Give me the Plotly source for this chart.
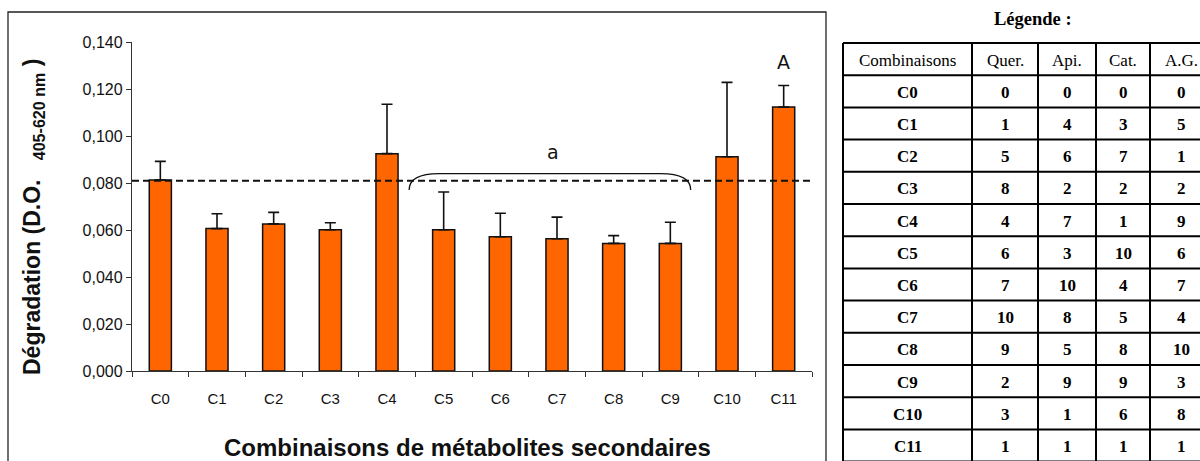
import plotly.graph_objects as go

# ---- data ----
categories = ["C0", "C1", "C2", "C3", "C4", "C5", "C6", "C7", "C8", "C9", "C10", "C11"]
values = [0.0813, 0.0606, 0.0626, 0.0601, 0.0925, 0.0601, 0.0571, 0.0563, 0.0543, 0.0543, 0.0912, 0.1123]
errors_up = [0.0079, 0.0063, 0.0049, 0.0030, 0.0210, 0.0161, 0.0100, 0.0092, 0.0033, 0.0090, 0.0316, 0.0092]
control_level = 0.081
y_ticks = [0.0, 0.02, 0.04, 0.06, 0.08, 0.10, 0.12, 0.14]

# legend table
table_header = ["Combinaisons", "Quer.", "Api.", "Cat.", "A.G."]
quer = [0, 1, 5, 8, 4, 6, 7, 10, 9, 2, 3, 1]
api = [0, 4, 6, 2, 7, 3, 10, 8, 5, 9, 1, 1]
cat = [0, 3, 7, 2, 1, 10, 4, 5, 8, 9, 6, 1]
ag = [0, 5, 1, 2, 9, 6, 7, 4, 10, 3, 8, 1]

# group annotations
bracket_from, bracket_to = 4.39, 9.36
bracket_top, bracket_end = 0.0840, 0.0770
label_a = ("a", 6.93, 0.0932)
label_A = ("A", 11.0, 0.1315)

# ---- layout constants (pixels) ----
W, H = 1200, 461
table_col_edges = [843, 972, 1038, 1096, 1150, 1212]
table_top, table_row_h = 43, 32.2

idx = list(range(len(categories)))

fig = go.Figure()
fig.add_trace(go.Bar(
    x=idx, y=values,
    marker=dict(color="#FF6600", line=dict(color="#111111", width=1.5)),
    width=0.39,
    error_y=dict(type="data", symmetric=False, array=errors_up,
                 arrayminus=[0] * len(values), color="#111111", thickness=1.6, width=5.5),
    showlegend=False, hoverinfo="skip",
))

fig.update_layout(
    width=W, height=H, autosize=False,
    margin=dict(l=0, r=0, t=0, b=0, pad=0, autoexpand=False),
    paper_bgcolor="white", plot_bgcolor="white",
    separators=", ",
    font=dict(family="Liberation Sans, Arial, sans-serif", color="#111111"),
    bargap=0.6,
)

fig.update_xaxes(
    automargin=False,
    domain=[132 / W, 812 / W], range=[-0.5, len(categories) - 0.5],
    tickmode="array", tickvals=idx, ticktext=categories,
    ticks="", ticklabelstandoff=14,
    minor=dict(tickmode="linear", tick0=0.5, dtick=1, ticks="outside", ticklen=5,
               tickcolor="#333333", tickwidth=1),
    showline=True, linecolor="#333333", linewidth=1.2,
    showgrid=False, zeroline=False,
    tickfont=dict(size=15, color="#111111"),
)
fig.update_yaxes(
    automargin=False,
    domain=[90 / H, 419 / H], range=[0, 0.14],
    tickmode="array", tickvals=y_ticks, tickformat=".3f",
    ticks="outside", ticklen=5, tickcolor="#333333",
    showline=True, linecolor="#333333", linewidth=1.2,
    showgrid=False, zeroline=False,
    tickfont=dict(size=16, color="#111111"),
)

# dashed control line
fig.add_shape(type="line", xref="x", yref="y", x0=-0.5, x1=len(categories) - 0.5,
              y0=control_level, y1=control_level,
              line=dict(color="#111111", width=2, dash="7px,4px"))

# bracket over C5..C9
r = 0.53
fig.add_shape(type="path", xref="x", yref="y",
              path=(f"M {bracket_from},{bracket_end} Q {bracket_from},{bracket_top} {bracket_from + r},{bracket_top} "
                    f"L {bracket_to - r},{bracket_top} Q {bracket_to},{bracket_top} {bracket_to},{bracket_end}"),
              line=dict(color="#111111", width=1.3))

for txt, xv, yv in (label_a, label_A):
    fig.add_annotation(x=xv, y=yv, xref="x", yref="y", text=txt, showarrow=False,
                       yanchor="middle", xanchor="center",
                       font=dict(size=19, family="DejaVu Sans, Verdana, sans-serif", color="#111111"))

# outer frame of chart
fig.add_shape(type="rect", xref="paper", yref="paper", x0=8 / W, x1=826 / W,
              y0=-0.05, y1=1 - 12 / H, line=dict(color="#222222", width=1.3))

# axis titles
fig.add_annotation(x=467 / W, y=1 - 447 / H, xref="paper", yref="paper", showarrow=False,
                   xanchor="center", yanchor="middle",
                   text="<b>Combinaisons de métabolites secondaires</b>",
                   font=dict(size=24, color="#111111"))
fig.add_annotation(x=33 / W, y=1 - 217 / H, xref="paper", yref="paper", showarrow=False,
                   xanchor="center", yanchor="middle", textangle=-90,
                   text="<b>Dégradation (D.O.   <sub>405-620 nm</sub> )</b>",
                   font=dict(size=23, color="#111111"))

# ---- legend table (grid lines + text) ----
serif = "Liberation Serif, Times New Roman, serif"
fig.add_annotation(x=1033 / W, y=1 - 19 / H, xref="paper", yref="paper", showarrow=False,
                   xanchor="center", yanchor="middle",
                   text="<b>Légende :</b>",
                   font=dict(size=18.5, family=serif, color="black"))

columns = [categories, quer, api, cat, ag]
n_rows = len(categories) + 1
table_bottom = table_top + n_rows * table_row_h
px_x = lambda v: v / W
px_y = lambda v: 1 - v / H
for k in range(n_rows + 1):
    yy = table_top + k * table_row_h
    fig.add_shape(type="line", xref="paper", yref="paper",
                  x0=px_x(table_col_edges[0]), x1=px_x(table_col_edges[-1]),
                  y0=px_y(yy), y1=px_y(yy), line=dict(color="black", width=2))
for xe in table_col_edges:
    fig.add_shape(type="line", xref="paper", yref="paper",
                  x0=px_x(xe), x1=px_x(xe), y0=px_y(table_top), y1=px_y(table_bottom),
                  line=dict(color="black", width=2))
for ci, col in enumerate(columns):
    xc = (table_col_edges[ci] + table_col_edges[ci + 1]) / 2
    cells = [table_header[ci]] + [f"<b>{v}</b>" for v in col]
    for ri, txt in enumerate(cells):
        yc = table_top + (ri + 0.5) * table_row_h + 1
        fig.add_annotation(x=px_x(xc), y=px_y(yc), xref="paper", yref="paper", showarrow=False,
                           xanchor="center", yanchor="middle", text=txt,
                           font=dict(size=17, family=serif, color="black"))

post = ("document.documentElement.style.overflow='hidden';"
        "document.body.style.margin='0px';document.body.style.overflow='hidden';"
        "var d=document.getElementById('{plot_id}');d.style.position='absolute';"
        "d.style.top='0px';d.style.left='0px';")
fig.write_html("out.html", post_script=post,
               config=dict(responsive=False, displayModeBar=False, staticPlot=True))
